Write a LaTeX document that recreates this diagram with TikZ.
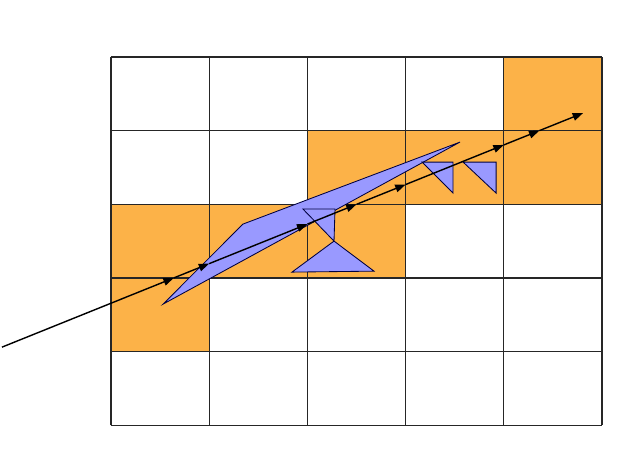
\documentclass[tikz,border=0pt]{standalone}
\usepackage{tikz}
\usetikzlibrary{arrows.meta}
\definecolor{cellorange}{RGB}{252,178,72}
\definecolor{polyblue}{RGB}{153,153,255}

\begin{document}
\begin{tikzpicture}[
  x=2.45cm, y=1.837cm,
  hit/.style={fill=cellorange},
  gridline/.style={draw=black!85, line width=0.9pt},
  poly/.style={fill=polyblue, draw=black!75!blue, line width=0.6pt},
  ray/.style={draw, -{Triangle[length=2.6mm,width=1.9mm]}, line width=1pt}
]
\useasboundingbox (-1.130,-0.380) rectangle (5.305,5.774);

% cells visited by the ray
\foreach \c/\r in {4/4,2/3,3/3,4/3,0/2,1/2,2/2,0/1}
  \fill[hit] (\c,\r) rectangle ++(1,1);
\draw[gridline] (0,0) grid[step={(1,1)}] (5,5);

% primitives
\draw[poly] (0.530,1.644) -- (1.344,2.731) -- (3.554,3.845) -- cycle;
\draw[poly] (1.955,2.935) -- (2.281,2.935) -- (2.271,2.500) -- cycle;
\draw[poly] (2.271,2.500) -- (1.843,2.079) -- (2.678,2.092) -- cycle;
\draw[poly] (3.167,3.573) -- (3.483,3.573) -- (3.483,3.152) -- cycle;
\draw[poly] (3.585,3.573) -- (3.921,3.573) -- (3.921,3.152) -- cycle;

% ray and its cell crossings
\coordinate (start) at (-1.110,1.060);
\coordinate (x1) at (0.640,2);
\coordinate (x2) at (1,2.194);
\coordinate (x3) at (2,2.731);
\coordinate (x4) at (2.501,3);
\coordinate (x5) at (3,3.268);
\coordinate (x6) at (4,3.806);
\coordinate (x7) at (4.362,4);
\coordinate (stop) at (4.807,4.239);
\foreach \a/\b in {start/x1,x1/x2,x2/x3,x3/x4,x4/x5,x5/x6,x6/x7,x7/stop}
  \draw[ray] (\a) -- (\b);
\end{tikzpicture}
\end{document}
